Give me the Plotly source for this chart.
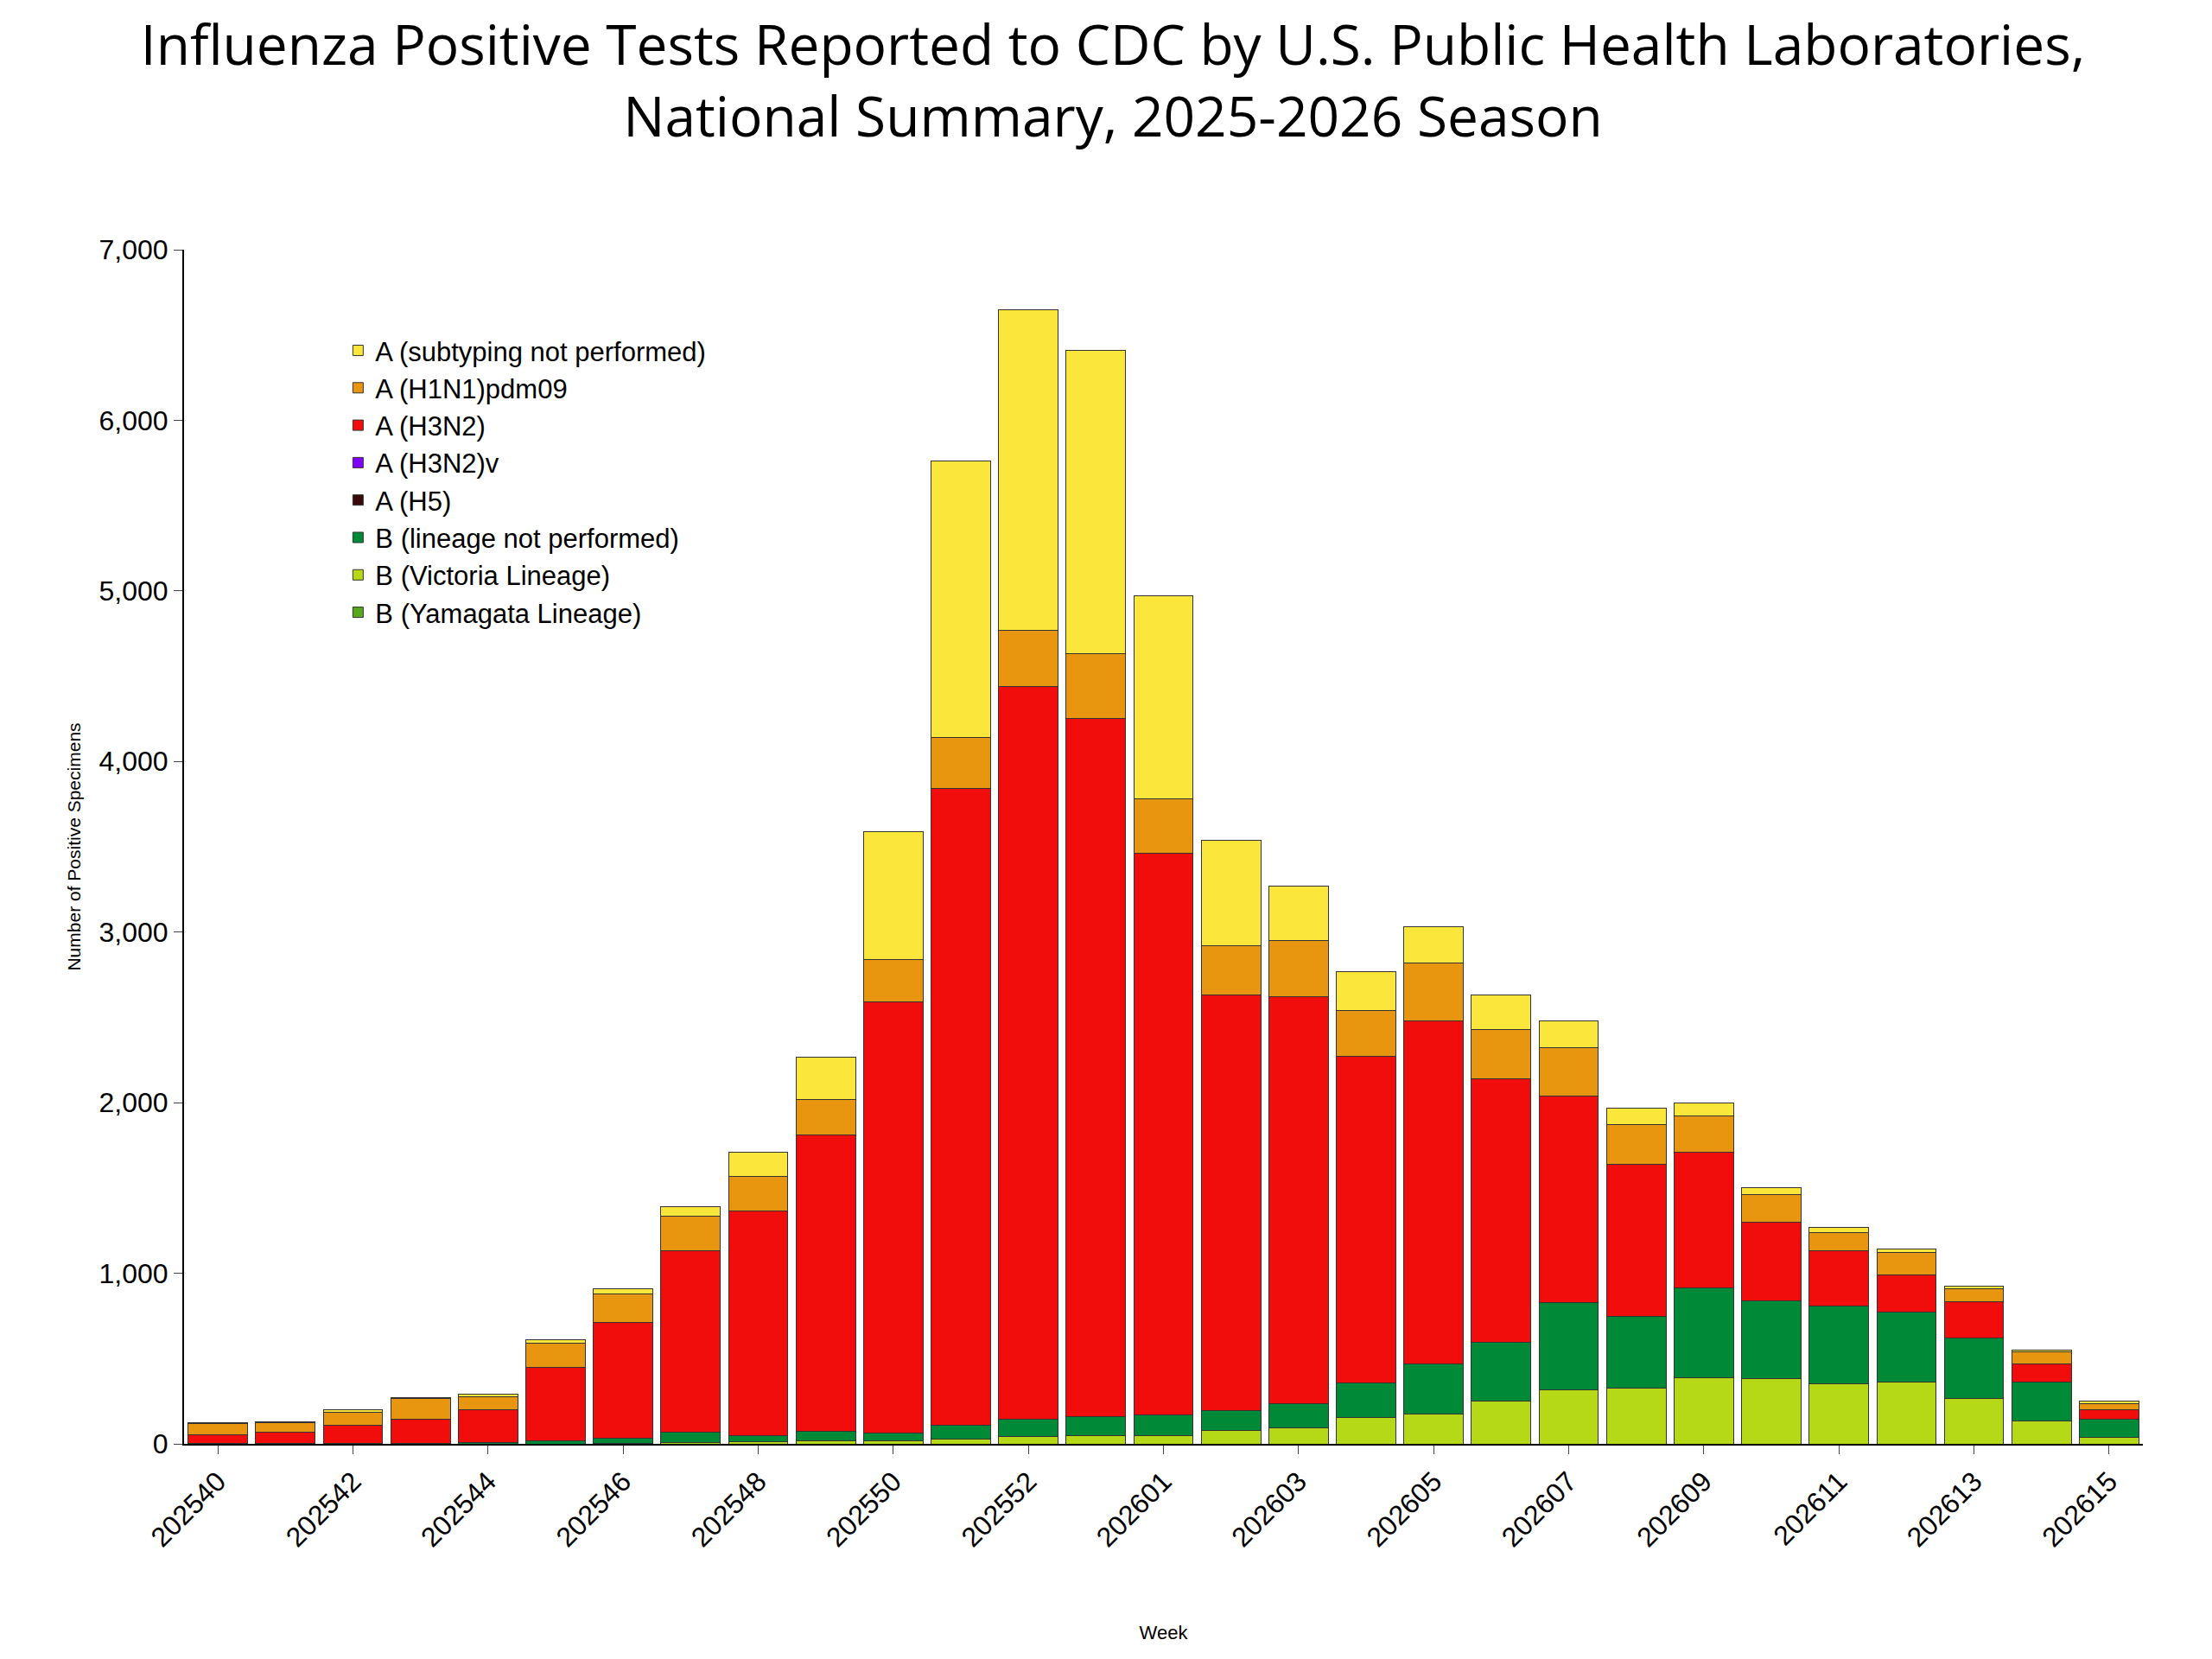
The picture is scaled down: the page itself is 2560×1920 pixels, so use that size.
import plotly.graph_objects as go

weeks = [str(w) for w in range(202540, 202554)] + [str(w) for w in range(202601, 202616)]

# cumulative tops, converted to per-segment counts below
victoria = [0, 0, 0, 0, 0, 0, 5, 10, 15, 20, 20, 30, 45, 50, 50, 80, 95, 155, 175, 250, 315, 325, 385, 380, 350, 360, 265, 135, 40]
lineage_top = [5, 5, 5, 5, 10, 20, 35, 70, 50, 75, 65, 110, 145, 160, 170, 195, 235, 355, 470, 595, 830, 745, 915, 840, 810, 770, 620, 360, 145]
h3n2_top = [55, 70, 110, 145, 200, 450, 710, 1130, 1365, 1810, 2590, 3840, 4440, 4250, 3460, 2630, 2620, 2270, 2480, 2140, 2040, 1640, 1710, 1300, 1130, 990, 835, 470, 200]
h1n1_top = [120, 125, 185, 265, 275, 590, 880, 1335, 1570, 2020, 2840, 4140, 4770, 4630, 3780, 2920, 2950, 2540, 2820, 2430, 2320, 1870, 1920, 1460, 1240, 1120, 910, 540, 235]
total = [125, 130, 200, 272, 290, 610, 910, 1390, 1710, 2265, 3590, 5760, 6650, 6410, 4970, 3540, 3270, 2770, 3030, 2630, 2480, 1970, 2000, 1500, 1270, 1140, 925, 550, 250]

lineage = [b - a for a, b in zip(victoria, lineage_top)]
h3n2 = [b - a for a, b in zip(lineage_top, h3n2_top)]
h1n1 = [b - a for a, b in zip(h3n2_top, h1n1_top)]
unsub = [b - a for a, b in zip(h1n1_top, total)]
zeros = [0] * len(weeks)

series = [
    ("B (Victoria Lineage)", victoria, "#b5d916"),
    ("B (Yamagata Lineage)", zeros, "#5aa61e"),
    ("B (lineage not performed)", lineage, "#008a38"),
    ("A (H5)", zeros, "#3a0a0a"),
    ("A (H3N2)v", zeros, "#8000ff"),
    ("A (H3N2)", h3n2, "#f20d0d"),
    ("A (H1N1)pdm09", h1n1, "#e8960f"),
    ("A (subtyping not performed)", unsub, "#fbe73b"),
]
legend_order = ["A (subtyping not performed)", "A (H1N1)pdm09", "A (H3N2)", "A (H3N2)v",
                "A (H5)", "B (lineage not performed)", "B (Victoria Lineage)", "B (Yamagata Lineage)"]

fig = go.Figure()
for name, vals, color in series:
    fig.add_trace(go.Bar(x=weeks, y=vals, name=name, legendgroup=name,
                         marker=dict(color=color, line=dict(color="#333333", width=1)),
                         legendrank=legend_order.index(name) + 1))

fig.update_layout(
    width=2560, height=1920, barmode="stack", bargap=0.12,
    plot_bgcolor="white", paper_bgcolor="white",
    font=dict(family="Liberation Sans, Arial", color="black"),
    title=dict(text="Influenza Positive Tests Reported to CDC by U.S. Public Health Laboratories,<br>National Summary, 2025-2026 Season",
               x=0.5, y=0.965, xanchor="center", yanchor="top", font=dict(size=64, family="Open Sans, Calibri")),
    margin=dict(l=205, r=88, t=281, b=257),
    legend=dict(x=0.08, y=0.935, xanchor="left", yanchor="top", font=dict(size=31),
                bgcolor="rgba(0,0,0,0)", traceorder="normal", tracegroupgap=22, itemwidth=30),
    showlegend=True,
)
fig.update_xaxes(title=dict(text="Week", font=dict(size=22), standoff=85),
                 tickvals=weeks[::2], tickangle=-45, tickfont=dict(size=32),
                 showline=True, linecolor="black", linewidth=2, ticks="outside", ticklen=10)
fig.update_yaxes(title=dict(text="Number of Positive Specimens", font=dict(size=21)),
                 range=[0, 7000], dtick=1000, tickformat=",", tickfont=dict(size=32),
                 showline=True, linecolor="black", linewidth=2, ticks="outside", ticklen=10,
                 showgrid=False, zeroline=False)

fig.write_html("out.html")
